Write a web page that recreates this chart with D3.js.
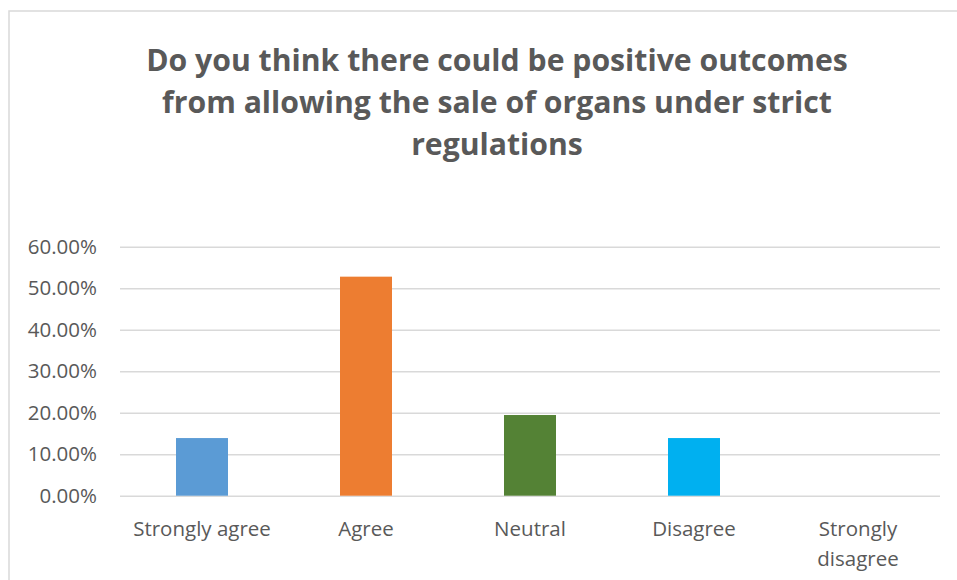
<!DOCTYPE html>
<html>
<head>
<meta charset="utf-8">
<script src="https://cdn.jsdelivr.net/npm/d3@7/dist/d3.min.js"></script>
<style>
  html, body { margin: 0; padding: 0; background: #fff; }
  svg { display: block; }
</style>
</head>
<body>
<svg id="chart" width="957" height="580"></svg>
<script>
const categories = ["Strongly agree", "Agree", "Neutral", "Disagree", "Strongly disagree"];
const values = [0.1389, 0.5278, 0.1944, 0.1389, 0];
const barColors = ["#5b9bd5", "#ed7d31", "#548235", "#00b0f0", "#ffc000"];
const yTicks = [0, 0.1, 0.2, 0.3, 0.4, 0.5, 0.6];
const titleLines = ["Do you think there could be positive outcomes", "from allowing the sale of organs under strict", "regulations"];

const svg = d3.select("#chart");
const font = "'Open Sans', sans-serif";

// chart border
svg.append("rect").attr("x", 9).attr("y", 11).attr("width", 960).attr("height", 580)
  .attr("fill", "#fff").attr("stroke", "#d9d9d9").attr("stroke-width", 1.5);

const margin = { left: 120, right: 940, top: 246.7, bottom: 495.7 };
const x = d3.scaleBand().domain(categories).range([margin.left, margin.right]).paddingInner(0.683).paddingOuter(0.3415);
const y = d3.scaleLinear().domain([0, 0.6]).range([margin.bottom, margin.top]);

// title
const title = svg.append("text").attr("text-anchor", "middle")
  .attr("font-family", font).attr("font-weight", "bold").attr("font-size", 30.2).attr("fill", "#595959");
titleLines.forEach((t, i) => {
  title.append("tspan").attr("x", 497).attr("y", 71 + i * 42).text(t);
});

// gridlines + y axis
const yAxis = d3.axisLeft(y).tickValues(yTicks).tickFormat(d3.format(".2%"))
  .tickSize(-(margin.right - margin.left)).tickPadding(23);
const gy = svg.append("g").attr("transform", `translate(${margin.left},0)`).call(yAxis);
gy.select(".domain").remove();
gy.selectAll(".tick line").attr("stroke", "#d9d9d9").attr("stroke-width", 1.5);
gy.selectAll(".tick text").attr("font-family", font).attr("font-size", 20.5).attr("fill", "#595959");

// bars
svg.append("g").selectAll("rect").data(categories).join("rect")
  .attr("x", d => x(d))
  .attr("width", x.bandwidth())
  .attr("y", (d, i) => y(values[i]))
  .attr("height", (d, i) => y(0) - y(values[i]))
  .attr("fill", (d, i) => barColors[i]);

// x axis
const xAxis = d3.axisBottom(x).tickSize(0).tickPadding(0);
const gx = svg.append("g").attr("transform", `translate(0,${margin.bottom})`).call(xAxis);
gx.select(".domain").remove();
gx.selectAll(".tick text").each(function(d) {
  const t = d3.select(this);
  t.text(null).attr("y", 0).attr("dy", null)
    .attr("font-family", font).attr("font-size", 20.5).attr("fill", "#595959");
  const words = d === "Strongly disagree" ? ["Strongly", "disagree"] : [d];
  words.forEach((w, i) => {
    t.append("tspan").attr("x", 0).attr("y", 40 + i * 30).text(w);
  });
});
</script>
</body>
</html>
